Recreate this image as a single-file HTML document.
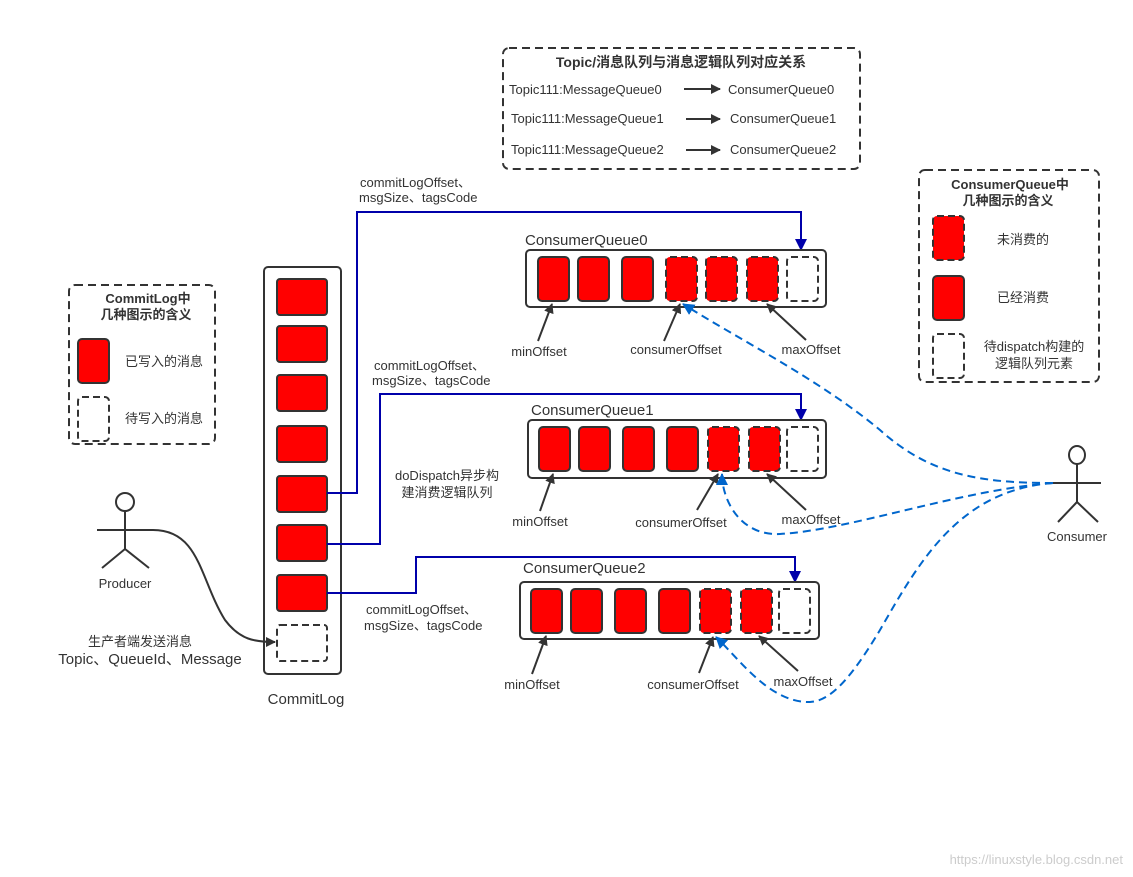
<!DOCTYPE html>
<html><head><meta charset="utf-8"><style>
html,body{margin:0;padding:0;background:#fff}
svg{display:block}
text{font-family:"Liberation Sans","Noto Sans CJK SC",sans-serif;fill:#333}
</style></head><body>
<svg width="1133" height="877" viewBox="0 0 1133 877" xmlns="http://www.w3.org/2000/svg">
<defs>
<marker id="ab" markerWidth="10" markerHeight="10" refX="9" refY="5" orient="auto" markerUnits="userSpaceOnUse"><path d="M0,0 L10,5 L0,10 Z" fill="#333"/></marker>
<marker id="ablue" markerWidth="12" markerHeight="12" refX="11" refY="6" orient="auto" markerUnits="userSpaceOnUse"><path d="M0,0 L12,6 L0,12 Z" fill="#0000aa"/></marker>
<marker id="alb" markerWidth="12" markerHeight="12" refX="11" refY="6" orient="auto" markerUnits="userSpaceOnUse"><path d="M0,0 L12,6 L0,12 Z" fill="#0066cc"/></marker>
</defs>

<!-- Topic legend -->
<rect x="503" y="48" width="357" height="121" rx="6" fill="none" stroke="#333" stroke-width="2" stroke-dasharray="8,5"/>
<text x="681" y="67" font-size="14" font-weight="bold" text-anchor="middle">Topic/消息队列与消息逻辑队列对应关系</text>
<g font-size="13">
<text x="509" y="94">Topic111:MessageQueue0</text><text x="728" y="94">ConsumerQueue0</text>
<text x="511" y="123">Topic111:MessageQueue1</text><text x="730" y="123">ConsumerQueue1</text>
<text x="511" y="154">Topic111:MessageQueue2</text><text x="730" y="154">ConsumerQueue2</text>
</g>
<g stroke="#333" stroke-width="2" marker-end="url(#ab)">
<line x1="684" y1="89" x2="720" y2="89"/><line x1="686" y1="119" x2="720" y2="119"/><line x1="686" y1="150" x2="720" y2="150"/>
</g>

<!-- CommitLog legend -->
<rect x="69" y="285" width="146" height="159" rx="6" fill="none" stroke="#333" stroke-width="2" stroke-dasharray="8,5"/>
<text x="148" y="303" font-size="13" font-weight="bold" text-anchor="middle">CommitLog中</text>
<text x="146" y="319" font-size="13" font-weight="bold" text-anchor="middle">几种图示的含义</text>
<rect x="78" y="339" width="31" height="44" rx="4" fill="#f00" stroke="#333" stroke-width="2"/>
<text x="125" y="366" font-size="13">已写入的消息</text>
<rect x="78" y="397" width="31" height="44" rx="4" fill="#fff" stroke="#333" stroke-width="2" stroke-dasharray="7,4"/>
<text x="125" y="423" font-size="13">待写入的消息</text>

<!-- CQ legend -->
<rect x="919" y="170" width="180" height="212" rx="6" fill="none" stroke="#333" stroke-width="2" stroke-dasharray="8,5"/>
<text x="1010" y="189" font-size="13" font-weight="bold" text-anchor="middle">ConsumerQueue中</text>
<text x="1008" y="205" font-size="13" font-weight="bold" text-anchor="middle">几种图示的含义</text>
<rect x="933" y="216" width="31" height="44" rx="4" fill="#f00" stroke="#333" stroke-width="2" stroke-dasharray="7,4"/>
<text x="997" y="244" font-size="13">未消费的</text>
<rect x="933" y="276" width="31" height="44" rx="4" fill="#f00" stroke="#333" stroke-width="2"/>
<text x="997" y="302" font-size="13">已经消费</text>
<rect x="933" y="334" width="31" height="44" rx="4" fill="#fff" stroke="#333" stroke-width="2" stroke-dasharray="7,4"/>
<text x="1034" y="351" font-size="13" text-anchor="middle">待dispatch构建的</text>
<text x="1034" y="368" font-size="13" text-anchor="middle">逻辑队列元素</text>

<!-- CommitLog -->
<rect x="264" y="267" width="77" height="407" rx="4" fill="#fff" stroke="#333" stroke-width="2"/>
<g fill="#f00" stroke="#333" stroke-width="2">
<rect x="277" y="279" width="50" height="36" rx="3"/>
<rect x="277" y="326" width="50" height="36" rx="3"/>
<rect x="277" y="375" width="50" height="36" rx="3"/>
<rect x="277" y="426" width="50" height="36" rx="3"/>
<rect x="277" y="476" width="50" height="36" rx="3"/>
<rect x="277" y="525" width="50" height="36" rx="3"/>
<rect x="277" y="575" width="50" height="36" rx="3"/>
</g>
<rect x="277" y="625" width="50" height="36" rx="3" fill="#fff" stroke="#333" stroke-width="2" stroke-dasharray="7,4"/>
<text x="306" y="704" font-size="15" text-anchor="middle">CommitLog</text>

<!-- Producer -->
<g stroke="#333" stroke-width="2" fill="none">
<circle cx="125" cy="502" r="9"/>
<line x1="125" y1="511" x2="125" y2="549"/>
<line x1="97" y1="530" x2="153" y2="530"/>
<line x1="125" y1="549" x2="102" y2="568"/><line x1="125" y1="549" x2="149" y2="568"/>
<path d="M153,530 C200,530 200,580 225,620 C240,640 255,642 275,642" marker-end="url(#ab)"/>
</g>
<text x="125" y="588" font-size="13" text-anchor="middle">Producer</text>
<text x="140" y="646" font-size="13" text-anchor="middle">生产者端发送消息</text>
<text x="150" y="664" font-size="15" text-anchor="middle">Topic、QueueId、Message</text>

<!-- Consumer -->
<g stroke="#333" stroke-width="2" fill="none">
<ellipse cx="1077" cy="455" rx="8" ry="9"/>
<line x1="1077" y1="464" x2="1077" y2="502"/>
<line x1="1053" y1="483" x2="1101" y2="483"/>
<line x1="1077" y1="502" x2="1058" y2="522"/><line x1="1077" y1="502" x2="1098" y2="522"/>
</g>
<text x="1077" y="541" font-size="13" text-anchor="middle">Consumer</text>

<!-- blue dispatch lines -->
<g stroke="#0000aa" stroke-width="2" fill="none" marker-end="url(#ablue)">
<polyline points="327,493 357,493 357,212 801,212 801,250"/>
<polyline points="327,544 380,544 380,394 801,394 801,420"/>
<polyline points="327,593 416,593 416,557 795,557 795,582"/>
</g>
<g font-size="13">
<text x="360" y="187">commitLogOffset、</text><text x="359" y="202">msgSize、tagsCode</text>
<text x="374" y="370">commitLogOffset、</text><text x="372" y="385">msgSize、tagsCode</text>
<text x="447" y="480" text-anchor="middle">doDispatch异步构</text><text x="447" y="497" text-anchor="middle">建消费逻辑队列</text>
<text x="366" y="614">commitLogOffset、</text><text x="364" y="630">msgSize、tagsCode</text>
</g>

<!-- CQ0 -->
<text x="525" y="245" font-size="15">ConsumerQueue0</text>
<rect x="526" y="250" width="300" height="57" rx="4" fill="#fff" stroke="#333" stroke-width="2"/>
<g stroke="#333" stroke-width="2">
<rect x="538" y="257" width="31" height="44" rx="4" fill="#f00"/>
<rect x="578" y="257" width="31" height="44" rx="4" fill="#f00"/>
<rect x="622" y="257" width="31" height="44" rx="4" fill="#f00"/>
<rect x="666" y="257" width="31" height="44" rx="4" fill="#f00" stroke-dasharray="7,4"/>
<rect x="706" y="257" width="31" height="44" rx="4" fill="#f00" stroke-dasharray="7,4"/>
<rect x="747" y="257" width="31" height="44" rx="4" fill="#f00" stroke-dasharray="7,4"/>
<rect x="787" y="257" width="31" height="44" rx="4" fill="#fff" stroke-dasharray="7,4"/>
</g>
<!-- CQ1 -->
<text x="531" y="415" font-size="15">ConsumerQueue1</text>
<rect x="528" y="420" width="298" height="58" rx="4" fill="#fff" stroke="#333" stroke-width="2"/>
<g stroke="#333" stroke-width="2">
<rect x="539" y="427" width="31" height="44" rx="4" fill="#f00"/>
<rect x="579" y="427" width="31" height="44" rx="4" fill="#f00"/>
<rect x="623" y="427" width="31" height="44" rx="4" fill="#f00"/>
<rect x="667" y="427" width="31" height="44" rx="4" fill="#f00"/>
<rect x="708" y="427" width="31" height="44" rx="4" fill="#f00" stroke-dasharray="7,4"/>
<rect x="749" y="427" width="31" height="44" rx="4" fill="#f00" stroke-dasharray="7,4"/>
<rect x="787" y="427" width="31" height="44" rx="4" fill="#fff" stroke-dasharray="7,4"/>
</g>
<!-- CQ2 -->
<text x="523" y="573" font-size="15">ConsumerQueue2</text>
<rect x="520" y="582" width="299" height="57" rx="4" fill="#fff" stroke="#333" stroke-width="2"/>
<g stroke="#333" stroke-width="2">
<rect x="531" y="589" width="31" height="44" rx="4" fill="#f00"/>
<rect x="571" y="589" width="31" height="44" rx="4" fill="#f00"/>
<rect x="615" y="589" width="31" height="44" rx="4" fill="#f00"/>
<rect x="659" y="589" width="31" height="44" rx="4" fill="#f00"/>
<rect x="700" y="589" width="31" height="44" rx="4" fill="#f00" stroke-dasharray="7,4"/>
<rect x="741" y="589" width="31" height="44" rx="4" fill="#f00" stroke-dasharray="7,4"/>
<rect x="779" y="589" width="31" height="44" rx="4" fill="#fff" stroke-dasharray="7,4"/>
</g>

<!-- offset arrows -->
<g stroke="#333" stroke-width="2" marker-end="url(#ab)">
<line x1="538" y1="341" x2="552" y2="304"/>
<line x1="664" y1="341" x2="680" y2="304"/>
<line x1="806" y1="340" x2="767" y2="304"/>
<line x1="540" y1="511" x2="553" y2="474"/>
<line x1="697" y1="510" x2="718" y2="474"/>
<line x1="806" y1="510" x2="767" y2="474"/>
<line x1="532" y1="674" x2="546" y2="636"/>
<line x1="699" y1="673" x2="713" y2="637"/>
<line x1="798" y1="671" x2="759" y2="636"/>
</g>
<g font-size="13">
<text x="539" y="356" text-anchor="middle">minOffset</text>
<text x="676" y="354" text-anchor="middle">consumerOffset</text>
<text x="811" y="354" text-anchor="middle">maxOffset</text>
<text x="540" y="526" text-anchor="middle">minOffset</text>
<text x="681" y="527" text-anchor="middle">consumerOffset</text>
<text x="811" y="524" text-anchor="middle">maxOffset</text>
<text x="532" y="689" text-anchor="middle">minOffset</text>
<text x="693" y="689" text-anchor="middle">consumerOffset</text>
<text x="803" y="686" text-anchor="middle">maxOffset</text>
</g>

<!-- consumer dashed curves -->
<g stroke="#0066cc" stroke-width="2" fill="none" stroke-dasharray="8,5" marker-end="url(#alb)">
<path d="M1053,483 C980,483 930,475 880,430 C820,380 740,340 683,304"/>
<path d="M1053,483 C960,490 850,530 780,534 C740,536 722,500 722,474"/>
<path d="M1053,483 C960,490 920,560 880,630 C850,680 830,701 810,702 C770,703 740,660 716,637"/>
</g>

<text x="1123" y="864" font-size="13" text-anchor="end" fill="#ccc" style="fill:#ccc">https://linuxstyle.blog.csdn.net</text>
</svg>
</body></html>
